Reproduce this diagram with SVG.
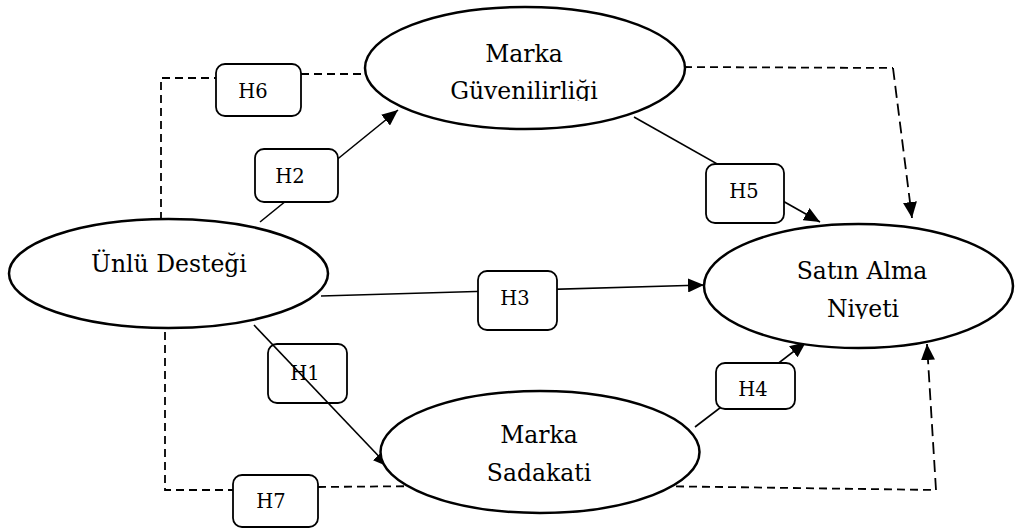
<svg xmlns="http://www.w3.org/2000/svg" width="1015" height="529" viewBox="0 0 1015 529">
  <style>
    .node { fill: #fff; stroke: #000; stroke-width: 2.5; }
    .box { fill: #fff; stroke: #000; stroke-width: 1.8; }
    .line { fill: none; stroke: #000; stroke-width: 1.6; }
    .dash { fill: none; stroke: #000; stroke-width: 1.8; stroke-dasharray: 8 5; }
    .dash-long { fill: none; stroke: #000; stroke-width: 1.8; stroke-dasharray: 12 6; }
    .ntext { font-family: "DejaVu Serif", "Liberation Serif", serif; font-size: 23.5px; fill: #000; text-anchor: middle; }
    .ltext { font-family: "DejaVu Serif", "Liberation Serif", serif; font-size: 19.5px; fill: #000; text-anchor: middle; }
  </style>
  <defs>
    <marker id="arrow" markerWidth="16" markerHeight="14" refX="16" refY="7" orient="auto" markerUnits="userSpaceOnUse">
      <path d="M0,0 L16,7 L0,14 z" fill="#000"/>
    </marker>
    <clipPath id="clip-guven"><rect x="380" y="60" width="300" height="41"/></clipPath>
    <clipPath id="clip-niyet"><rect x="720" y="290" width="280" height="29"/></clipPath>
  </defs>

  <!-- H1 label sits beneath its arrow -->
  <g id="label-h1">
    <rect class="box" x="268" y="344" width="79" height="59" rx="9"/>
    <text class="ltext" x="305" y="380">H1</text>
  </g>

  <g id="connectors">
    <!-- dashed paths -->
    <path class="dash" d="M161,220 V78 H216"/>
    <path class="dash" d="M301,74 H368"/>
    <path class="dash" d="M684,67 L893,68"/>
    <path class="dash-long" d="M893,68 L912,218" marker-end="url(#arrow)"/>
    <path class="dash" d="M165,332 V490 H233"/>
    <path class="dash" d="M318,487 L430,486"/>
    <path class="dash" d="M650,486 L936,490"/>
    <path class="dash-long" d="M936,490 L927,344" marker-end="url(#arrow)"/>
    <!-- solid arrows -->
    <path class="line" d="M260,222 L398,110" marker-end="url(#arrow)"/>
    <path class="line" d="M254,325 L389,467" marker-end="url(#arrow)"/>
    <path class="line" d="M321,296 L704,285" marker-end="url(#arrow)"/>
    <path class="line" d="M634,117 L820,222" marker-end="url(#arrow)"/>
    <path class="line" d="M695,427 L806,342" marker-end="url(#arrow)"/>
  </g>

  <g id="node-unlu">
    <ellipse class="node" cx="168.5" cy="273.5" rx="159.5" ry="54.5"/>
    <text class="ntext" x="169" y="272">Ünlü Desteği</text>
  </g>
  <g id="node-guven">
    <ellipse class="node" cx="525" cy="68" rx="160" ry="61"/>
    <text class="ntext" x="524" y="62">Marka</text>
    <text class="ntext" x="524" y="99" clip-path="url(#clip-guven)">Güvenilirliği</text>
  </g>
  <g id="node-sadakat">
    <ellipse class="node" cx="540" cy="452" rx="159.5" ry="61"/>
    <text class="ntext" x="539" y="443">Marka</text>
    <text class="ntext" x="539" y="481">Sadakati</text>
  </g>
  <g id="node-niyet">
    <ellipse class="node" cx="858.5" cy="286" rx="154.5" ry="62"/>
    <text class="ntext" x="862" y="279">Satın Alma</text>
    <text class="ntext" x="863" y="317" clip-path="url(#clip-niyet)">Niyeti</text>
  </g>

  <g id="labels">
    <g id="label-h6">
      <rect class="box" x="216" y="64" width="85" height="52" rx="9"/>
      <text class="ltext" x="253" y="98">H6</text>
    </g>
    <g id="label-h2">
      <rect class="box" x="255" y="149" width="83" height="53" rx="9"/>
      <text class="ltext" x="290" y="183">H2</text>
    </g>
    <g id="label-h3">
      <rect class="box" x="478" y="271" width="79" height="59" rx="9"/>
      <text class="ltext" x="515" y="305">H3</text>
    </g>
    <g id="label-h5">
      <rect class="box" x="706" y="164" width="78" height="59" rx="9"/>
      <text class="ltext" x="744" y="198">H5</text>
    </g>
    <g id="label-h4">
      <rect class="box" x="716" y="363" width="79" height="46" rx="9"/>
      <text class="ltext" x="753" y="396">H4</text>
    </g>
    <g id="label-h7">
      <rect class="box" x="233" y="475" width="85" height="52" rx="9"/>
      <text class="ltext" x="271" y="508">H7</text>
    </g>
  </g>
</svg>
